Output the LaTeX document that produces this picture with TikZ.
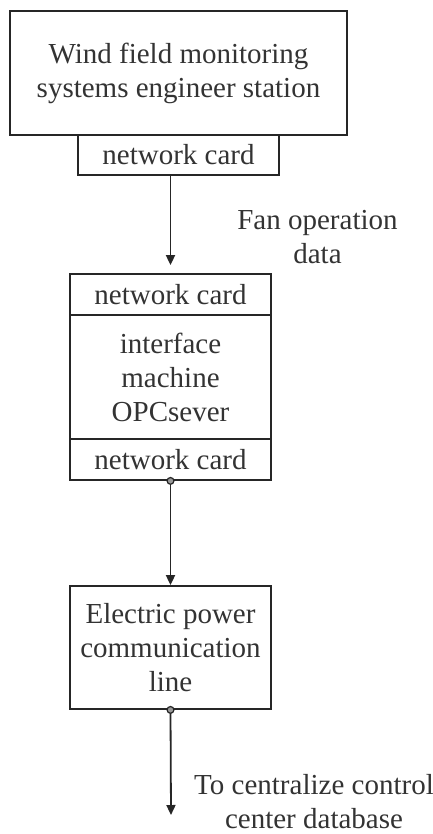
\documentclass[tikz,border=0pt]{standalone}
\usepackage{fontspec}
\setmainfont{Liberation Serif}
\usetikzlibrary{arrows.meta}
\begin{document}
\begin{tikzpicture}[x=0.5pt,y=-0.5pt,
  box/.style={draw=black!85, line width=0.9pt, inner sep=0pt, align=center, text=black!80, font=\fontsize{14.5}{17}\selectfont},
  lbl/.style={align=center, inner sep=0pt, text=black!80, font=\fontsize{14.5}{17}\selectfont},
  conn/.style={draw=black!85, line width=0.9pt, -{Triangle[length=5pt,width=4.5pt]}},
  dot/.style={circle, draw=black!85, fill=black!40, line width=0.6pt, inner sep=0pt, minimum size=3.4pt}]
\useasboundingbox (0,0) rectangle (433,834);
\node[box, minimum width=168.5pt, minimum height=62pt] (ws) at (178.5,73) {Wind field monitoring\\systems engineer station};
\node[box, minimum width=100.5pt, minimum height=20pt] (nc1) at (178.5,155) {network card};
\node[box, minimum width=100.5pt, minimum height=20.5pt] (nc2) at (170.5,294.5) {network card};
\node[box, minimum width=100.5pt, minimum height=62pt] (im) at (170.5,377) {interface\\machine\\OPCsever};
\node[box, minimum width=100.5pt, minimum height=20.5pt] (nc3) at (170.5,459.5) {network card};
\node[box, minimum width=100.5pt, minimum height=61.5pt] (ep) at (170.5,647.5) {Electric power\\communication\\line};
\node[lbl] (fan) at (317.5,237) {Fan operation\\data};
\node[lbl] (cc) at (314,802) {To centralize control\\center database};
\coordinate (end) at (171,815);
\draw[conn, shorten >=4pt] (nc1.south -| nc2.north) -- (nc2.north);
\draw[conn] (nc3.south) -- (ep.north);
\draw[conn] (ep.south) -- (end);
\node[dot] (d1) at (nc3.south) {};
\node[dot] (d2) at (ep.south) {};
\end{tikzpicture}
\end{document}
